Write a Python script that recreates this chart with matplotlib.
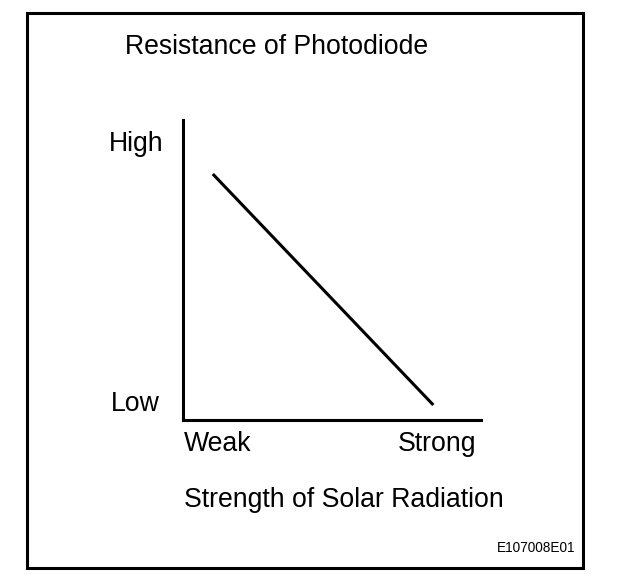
import matplotlib
matplotlib.use("Agg")
import matplotlib.pyplot as plt
from matplotlib.patches import Rectangle

# Data
strength = [0.10, 0.84]
resistance = [0.82, 0.05]
x_labels = ["Weak", "Strong"]
y_labels = ["High", "Low"]
title = "Resistance of Photodiode"
xlabel = "Strength of Solar Radiation"
code = "E107008E01"

plt.rcParams['font.family'] = ['Liberation Sans', 'DejaVu Sans']

W, H = 624, 586
fig = plt.figure(figsize=(W / 100, H / 100), dpi=100)

# overlay in pixel coordinates
ov = fig.add_axes([0, 0, 1, 1])
ov.set_xlim(0, W)
ov.set_ylim(H, 0)
ov.axis('off')
ov.add_patch(Rectangle((27, 13), 556, 555, fill=False, edgecolor='black', linewidth=2.2))

fs = 19.2
ov.text(276.5, 54, title, fontsize=fs, ha='center', va='baseline')
ov.text(136.5, 151, y_labels[0], fontsize=fs, ha='center', va='baseline')
ov.text(135.5, 411, y_labels[1], fontsize=fs, ha='center', va='baseline')
ov.text(217.5, 451, x_labels[0], fontsize=fs, ha='center', va='baseline')
ov.text(436.5, 451, x_labels[1], fontsize=fs, ha='center', va='baseline')
ov.text(343.5, 507, xlabel, fontsize=fs, ha='center', va='baseline')
ov.text(536, 552, code, fontsize=9.8, ha='center', va='baseline')

# plot axes: x 183..481, y 120..420 (pixels from top)
left, right, top, bottom = 183, 481, 120, 420
ax = fig.add_axes([left / W, 1 - bottom / H, (right - left) / W, (bottom - top) / H])
ax.set_xlim(0, 1)
ax.set_ylim(0, 1)
ax.patch.set_alpha(0)
for s in ['top', 'right']:
    ax.spines[s].set_visible(False)
for s in ['left', 'bottom']:
    ax.spines[s].set_linewidth(2.2)
ax.set_xticks([])
ax.set_yticks([])
ax.plot(strength, resistance, color='black', linewidth=2.2, solid_capstyle='butt')

fig.savefig("out.png", dpi=100)
